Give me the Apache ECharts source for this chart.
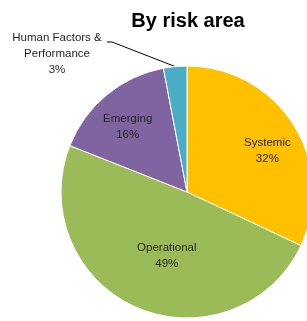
<!DOCTYPE html>
<html>
<head>
<meta charset="utf-8">
<script src="https://cdn.jsdelivr.net/npm/echarts@6/dist/echarts.min.js"></script>
<style>
  html, body { margin: 0; padding: 0; background: #fff; }
  #chart { width: 307px; height: 321px; }
</style>
</head>
<body>
<div id="chart"></div>
<script>
// risk areas, clockwise from 12 o'clock
const categories = ['Systemic', 'Operational', 'Emerging', 'Human Factors &\nPerformance']
const shares = [32, 49, 16, 3]
const colors = ['#FFC000', '#9BBB59', '#8064A2', '#4BACC6']

const cx = 187, cy = 192, R = 126
// inside label nudges, px
const nudge = [[-1, 10], [6, 3], [0, 7]]

const chart = echarts.init(document.getElementById('chart'))

// point on the rim at the middle of a slice
const rimPoint = (i) => {
    const total = shares.reduce((a, b) => a + b, 0)
    const before = shares.slice(0, i).reduce((a, b) => a + b, 0)
    const a = (before + shares[i] / 2) / total * Math.PI * 2
    return [cx + R * Math.sin(a), cy - R * Math.cos(a)]
}

const option = {
    animation: false,
    title: {
        text: 'By risk area',
        left: 183,
        top: 6,
        textAlign: 'center',
        textStyle: {
            fontFamily: 'Liberation Sans',
            fontWeight: 'bold',
            fontSize: 20,
            color: '#000'
        }
    },
    series: [
        {
            type: 'pie',
            center: [cx, cy],
            radius: R,
            startAngle: 90,
            clockwise: true,
            avoidLabelOverlap: false,
            itemStyle: {
                borderColor: '#fff',
                borderWidth: 1
            },
            label: {
                position: 'inside',
                formatter: '{b}\n{c}%',
                fontFamily: 'Liberation Sans',
                fontSize: 11.5,
                lineHeight: 16,
                color: '#262626'
            },
            labelLine: { show: false },
            labelLayout: function (p) {
                if (p.dataIndex === 3) {
                    const rim = rimPoint(3)
                    return {
                        x: 57, y: 54, align: 'center', verticalAlign: 'middle',
                        labelLinePoints: [[107, 42], [112, 42], rim]
                    }
                }
                const r = p.labelRect
                const mx = r.x + r.width / 2, my = r.y + r.height / 2
                const f = [1.46, 1.0, 1.41][p.dataIndex]
                const n = nudge[p.dataIndex]
                return { dx: (mx - cx) * (f - 1) + n[0], dy: (my - cy) * (f - 1) + n[1] }
            },
            data: categories.map((name, i) => {
                const d = { name: name, value: shares[i], itemStyle: { color: colors[i] } }
                if (i === 3) {
                    d.label = { position: 'outside', align: 'center' }
                    d.labelLine = { show: true, length: 10, length2: 10, lineStyle: { color: '#000', width: 1 } }
                }
                return d
            })
        }
    ]
}
chart.setOption(option)
</script>
</body>
</html>
